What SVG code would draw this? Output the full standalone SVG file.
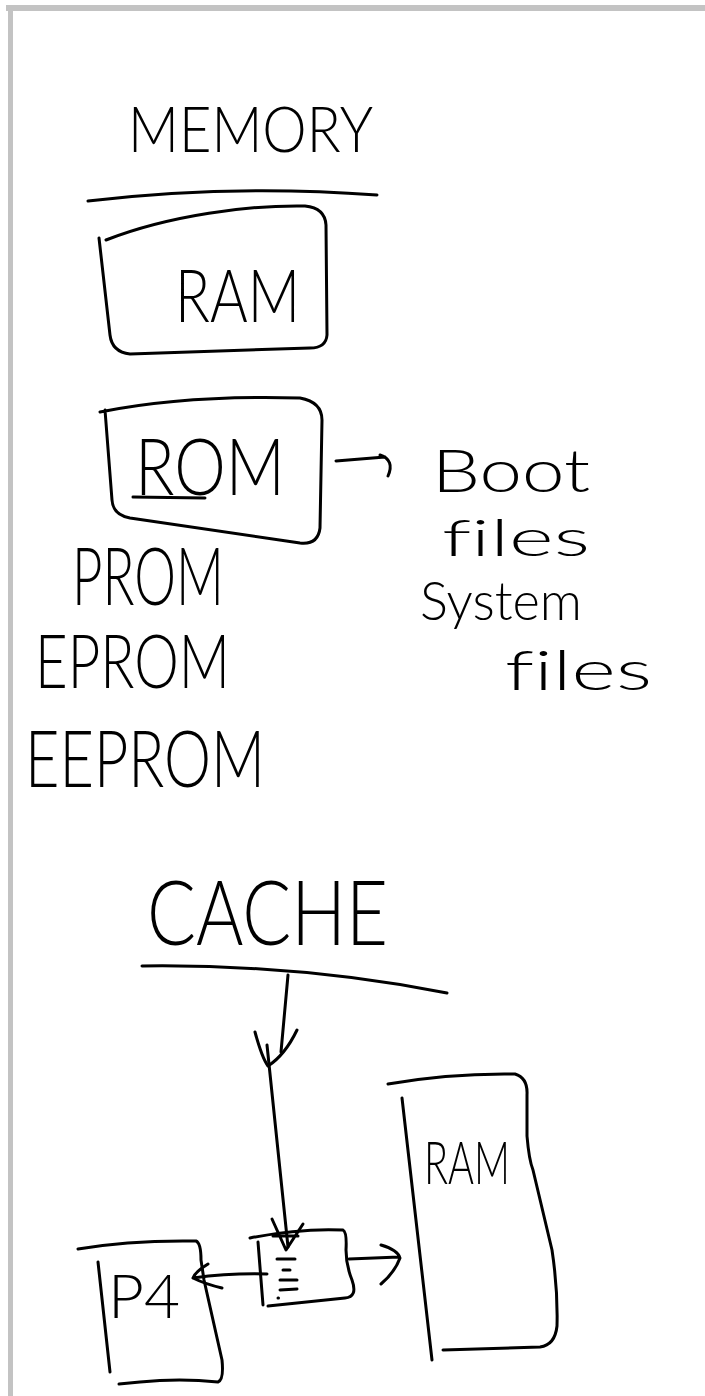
<svg xmlns="http://www.w3.org/2000/svg" width="705" height="1396" viewBox="0 0 705 1396">
<style>
.s{fill:none;stroke:#000;stroke-width:3;stroke-linecap:round;stroke-linejoin:round}
.t{font-family:"Lato","Open Sans","Liberation Sans",sans-serif;font-weight:300;fill:#000;font-variant-ligatures:none}
</style>
<rect width="705" height="1396" fill="#fff"/>
<g id="frame" fill="#c3c3c3">
<rect x="6" y="5" width="699" height="6"/>
<rect x="8" y="5" width="5" height="1391"/>
</g>
<g id="memory-title">
<text class="t" x="128" y="152" font-size="64" textLength="245" lengthAdjust="spacingAndGlyphs">MEMORY</text>
<path class="s" d="M88 201 Q230 184 377 195"/>
</g>
<g id="ram-top">
<path class="s" d="M106 240 C170 215 250 205 305 206 Q325 208 326 225 L327 335 Q326 348 310 348 L130 354 Q112 352 110 335 L99 238"/>
<text class="t" x="175" y="322" font-size="72" textLength="125" lengthAdjust="spacingAndGlyphs">RAM</text>
</g>
<g id="rom">
<path class="s" d="M100 412 C160 400 230 396 300 398 Q322 402 322 420 L320 528 Q318 545 300 543 L130 518 Q113 515 112 500 L105 410"/>
<text class="t" x="135" y="495" font-size="78" textLength="150" lengthAdjust="spacingAndGlyphs">ROM</text>
<path class="s" d="M133 497 L205 498"/>
</g>
<g id="rom-types">
<text class="t" x="72" y="605" font-size="80" textLength="152" lengthAdjust="spacingAndGlyphs">PROM</text>
<text class="t" x="35" y="688" font-size="75" textLength="195" lengthAdjust="spacingAndGlyphs">EPROM</text>
<text class="t" x="25" y="787" font-size="78" textLength="240" lengthAdjust="spacingAndGlyphs">EEPROM</text>
</g>
<g id="rom-contents">
<text class="t" x="432" y="492" font-size="60" textLength="158" lengthAdjust="spacingAndGlyphs">Boot</text>
<text class="t" x="442" y="556" font-size="52" textLength="148" lengthAdjust="spacingAndGlyphs">files</text>
<text class="t" x="420" y="620" font-size="54" textLength="162" lengthAdjust="spacingAndGlyphs">System</text>
<text class="t" x="505" y="690" font-size="56" textLength="147" lengthAdjust="spacingAndGlyphs">files</text>
</g>
<g id="cache-title">
<text class="t" x="147" y="945" font-size="90" textLength="241" lengthAdjust="spacingAndGlyphs">CACHE</text>
<path class="s" d="M142 966 Q300 964 447 993"/>
</g>
<g id="cache">
<path class="s" d="M250 1238 Q300 1228 343 1230 Q347 1232 346 1250 Q346 1265 352 1280 Q358 1297 345 1298 L268 1306"/>
<path class="s" d="M258 1242 L263 1305"/>
<path class="s" d="M277 1259 L295 1259 M283 1270 L290 1270 M280 1280 L297 1280 M280 1290 L297 1289 M278 1298 L278.5 1298"/>
</g>
<g id="p4">
<path class="s" d="M78 1249 Q130 1240 196 1241 Q201 1243 201 1260 L204 1280 L222 1360 Q224 1380 218 1382 Q180 1378 140 1382 L119 1384"/>
<path class="s" d="M98 1262 L110 1372"/>
<text class="t" x="108" y="1318" font-size="62" textLength="72" lengthAdjust="spacingAndGlyphs">P4</text>
</g>
<g id="ram-bottom">
<path class="s" d="M388 1084 Q450 1073 515 1074 Q528 1078 527 1095 L527 1136 Q529 1160 533 1170 L552 1250 Q558 1290 557 1326 Q555 1345 540 1347 L443 1350"/>
<path class="s" d="M402 1098 L432 1360"/>
<text class="t" x="424" y="1184" font-size="60" textLength="86" lengthAdjust="spacingAndGlyphs">RAM</text>
</g>
<g id="connectors">
<path class="s" d="M336 461 L385 457 M380 455 Q395 460 388 476"/>
<path class="s" d="M288 975 L281 1052"/>
<path class="s" d="M255 1032 Q262 1058 268 1066 Q285 1055 297 1030"/>
<path class="s" d="M267 1045 L288 1247"/>
<path class="s" d="M272 1219 L286 1250 L303 1224 M273 1236 L298 1236"/>
<path class="s" d="M267 1274 Q230 1273 193 1278 M208 1264 Q195 1272 193 1278 Q205 1284 222 1288"/>
<path class="s" d="M349 1259 L399 1257 M381 1245 Q398 1250 400 1258 Q395 1272 381 1284"/>
</g>
</svg>
